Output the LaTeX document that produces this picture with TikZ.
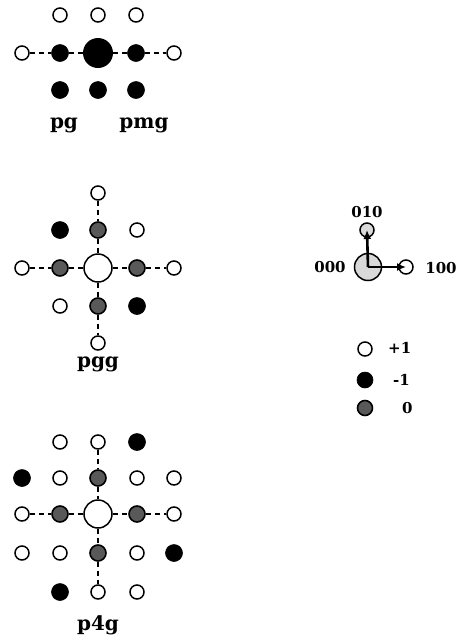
\documentclass[tikz,border=0pt]{standalone}
\usepackage{fontspec}
\setmainfont{DejaVu Serif}
\usetikzlibrary{arrows.meta}
\begin{document}
\begin{tikzpicture}[x=1pt,y=-1pt,
  opn/.style={circle,draw,line width=1.5pt,fill=white,minimum size=14pt,inner sep=0pt},
  fil/.style={circle,fill=black,draw,line width=0.6pt,minimum size=17pt,inner sep=0pt},
  gry/.style={circle,draw,line width=1.6pt,fill=black!65,minimum size=16pt,inner sep=0pt},
  bigf/.style={circle,fill=black,minimum size=30pt,inner sep=0pt},
  bigo/.style={circle,draw,line width=1.5pt,fill=white,minimum size=28pt,inner sep=0pt},
  dsh/.style={dash pattern=on 5pt off 4pt,line width=1.4pt},
  lbl/.style={font=\fontsize{20}{20}\selectfont\bfseries,inner sep=0pt},
  sml/.style={font=\fontsize{15}{15}\selectfont\bfseries,inner sep=0pt},
  arr/.style={line width=2.6pt,-{Latex[length=9pt,width=8pt]}}]
\useasboundingbox (0,0) rectangle (461,641);
% ---------- pg / pmg ----------
\node[opn] (a11) at (60,15) {};
\node[opn] (a12) at (98,15) {};
\node[opn] (a13) at (136,15) {};
\node[opn] (a21) at (22,53) {};
\node[fil] (a22) at (60,53) {};
\node[bigf] (a23) at (98,53) {};
\node[fil] (a24) at (136,53) {};
\node[opn] (a25) at (174,53) {};
\node[fil] (a31) at (60,90) {};
\node[fil] (a32) at (98,90) {};
\node[fil] (a33) at (136,90) {};
\draw[dsh] (a21) -- (a22);
\draw[dsh] (a22) -- (a23);
\draw[dsh] (a23) -- (a24);
\draw[dsh] (a24) -- (a25);
\node[lbl] (tpg) at (64,125) {pg};
\node[lbl] (tpmg) at (144,125) {pmg};
% ---------- pgg ----------
\node[opn] (b1) at (98,193) {};
\node[fil] (b21) at (60,230) {};
\node[gry] (b22) at (98,230) {};
\node[opn] (b23) at (137,230) {};
\node[opn] (b31) at (22,268) {};
\node[gry] (b32) at (60,268) {};
\node[bigo] (b33) at (98,268) {};
\node[gry] (b34) at (137,268) {};
\node[opn] (b35) at (174,268) {};
\node[opn] (b41) at (60,306) {};
\node[gry] (b42) at (98,306) {};
\node[fil] (b43) at (137,306) {};
\node[opn] (b5) at (98,343) {};
\draw[dsh] (b31) -- (b32);
\draw[dsh] (b32) -- (b33);
\draw[dsh] (b33) -- (b34);
\draw[dsh] (b34) -- (b35);
\draw[dsh] (b1) -- (b22);
\draw[dsh] (b22) -- (b33);
\draw[dsh] (b33) -- (b42);
\draw[dsh] (b42) -- (b5);
\node[lbl] (tpgg) at (98,364) {pgg};
% ---------- p4g ----------
\node[opn] (c11) at (60,442) {};
\node[opn] (c12) at (98,442) {};
\node[fil] (c13) at (137,442) {};
\node[fil] (c21) at (22,478) {};
\node[opn] (c22) at (60,478) {};
\node[gry] (c23) at (98,478) {};
\node[opn] (c24) at (137,478) {};
\node[opn] (c25) at (174,478) {};
\node[opn] (c31) at (22,514) {};
\node[gry] (c32) at (60,514) {};
\node[bigo] (c33) at (98,514) {};
\node[gry] (c34) at (137,514) {};
\node[opn] (c35) at (174,514) {};
\node[opn] (c41) at (22,553) {};
\node[opn] (c42) at (60,553) {};
\node[gry] (c43) at (98,553) {};
\node[opn] (c44) at (137,553) {};
\node[fil] (c45) at (174,553) {};
\node[fil] (c51) at (60,592) {};
\node[opn] (c52) at (98,592) {};
\node[opn] (c53) at (137,592) {};
\draw[dsh] (c31) -- (c32);
\draw[dsh] (c32) -- (c33);
\draw[dsh] (c33) -- (c34);
\draw[dsh] (c34) -- (c35);
\draw[dsh] (c12) -- (c23);
\draw[dsh] (c23) -- (c33);
\draw[dsh] (c33) -- (c43);
\draw[dsh] (c43) -- (c52);
\node[lbl] (tp4g) at (98,625) {p4g};
% ---------- axes ----------
\node[circle,draw,line width=1.5pt,fill=black!15,minimum size=27pt,inner sep=0pt] (o) at (368,267) {};
\node[circle,draw,line width=1.5pt,fill=black!15,minimum size=14pt,inner sep=0pt] (y) at (367,230) {};
\node[opn] (x) at (406,267) {};
\draw[arr] (o.center) -- (y.center);
\draw[arr] (o.center) -- (x.center);
\node[sml] (t010) at (367,212) {010};
\node[sml] (t000) at (330,267) {000};
\node[sml] (t100) at (441,268) {100};
% ---------- legend ----------
\node[opn] (l1) at (365,349) {};
\node[fil,minimum size=16pt] (l2) at (365,380) {};
\node[gry,minimum size=15pt] (l3) at (365,408) {};
\node[sml,anchor=west] (tl1) at (388,348) {+1};
\node[sml,anchor=west] (tl2) at (393,380) {-1};
\node[sml,anchor=west] (tl3) at (402,408) {0};
\end{tikzpicture}
\end{document}
